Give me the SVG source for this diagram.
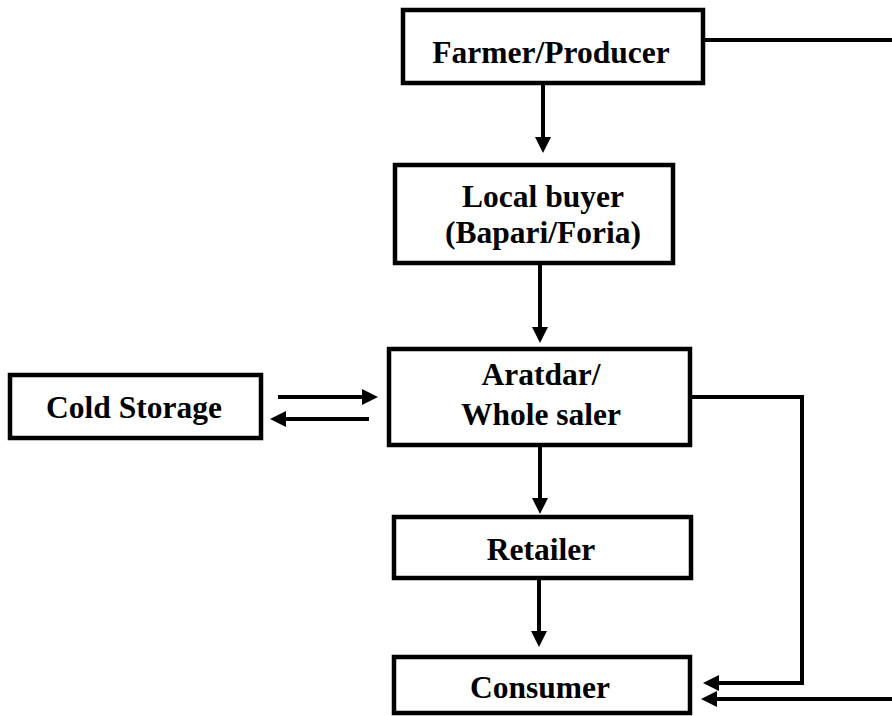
<svg xmlns="http://www.w3.org/2000/svg" width="892" height="716" viewBox="0 0 892 716">
<defs>
<style>
.box{fill:#fff;stroke:#000;stroke-width:4.5}
.t{font-family:"Liberation Serif","Times New Roman",serif;font-weight:bold;font-size:31.5px;text-anchor:middle;fill:#000}
.c{fill:none;stroke:#000;stroke-width:4}
</style>
<marker id="ah" markerUnits="userSpaceOnUse" markerWidth="17" markerHeight="16" refX="12" refY="8" orient="auto">
<path d="M0,0 L16,8 L0,16 z" fill="#000"/>
</marker>
</defs>
<rect width="892" height="716" fill="#fff"/>
<g id="connectors">
<path class="c" d="M705,40 H892"/>
<path class="c" d="M543,85 V149" marker-end="url(#ah)"/>
<path class="c" d="M540,265 V339" marker-end="url(#ah)"/>
<path class="c" d="M278,397 H374" marker-end="url(#ah)"/>
<path class="c" d="M369,419 H274" marker-end="url(#ah)"/>
<path class="c" d="M692,397 H802 V683 H707" marker-end="url(#ah)"/>
<path class="c" d="M540,447 V510" marker-end="url(#ah)"/>
<path class="c" d="M539,580 V643" marker-end="url(#ah)"/>
<path class="c" d="M892,699 H705" marker-end="url(#ah)"/>
</g>
<g id="farmer">
<rect class="box" x="403" y="10" width="300" height="73"/>
<text class="t" x="551" y="63">Farmer/Producer</text>
</g>
<g id="local-buyer">
<rect class="box" x="395" y="165" width="278" height="98"/>
<text class="t" x="543" y="207">Local buyer</text>
<text class="t" x="543" y="243">(Bapari/Foria)</text>
</g>
<g id="cold-storage">
<rect class="box" x="10" y="375" width="251" height="63"/>
<text class="t" x="134" y="418">Cold Storage</text>
</g>
<g id="aratdar">
<rect class="box" x="389" y="349" width="301" height="96"/>
<text class="t" x="541" y="385">Aratdar/</text>
<text class="t" x="541" y="425">Whole saler</text>
</g>
<g id="retailer">
<rect class="box" x="394" y="517" width="297" height="61"/>
<text class="t" x="541" y="560">Retailer</text>
</g>
<g id="consumer">
<rect class="box" x="394" y="657" width="296" height="56"/>
<text class="t" x="540" y="698">Consumer</text>
</g>
</svg>
